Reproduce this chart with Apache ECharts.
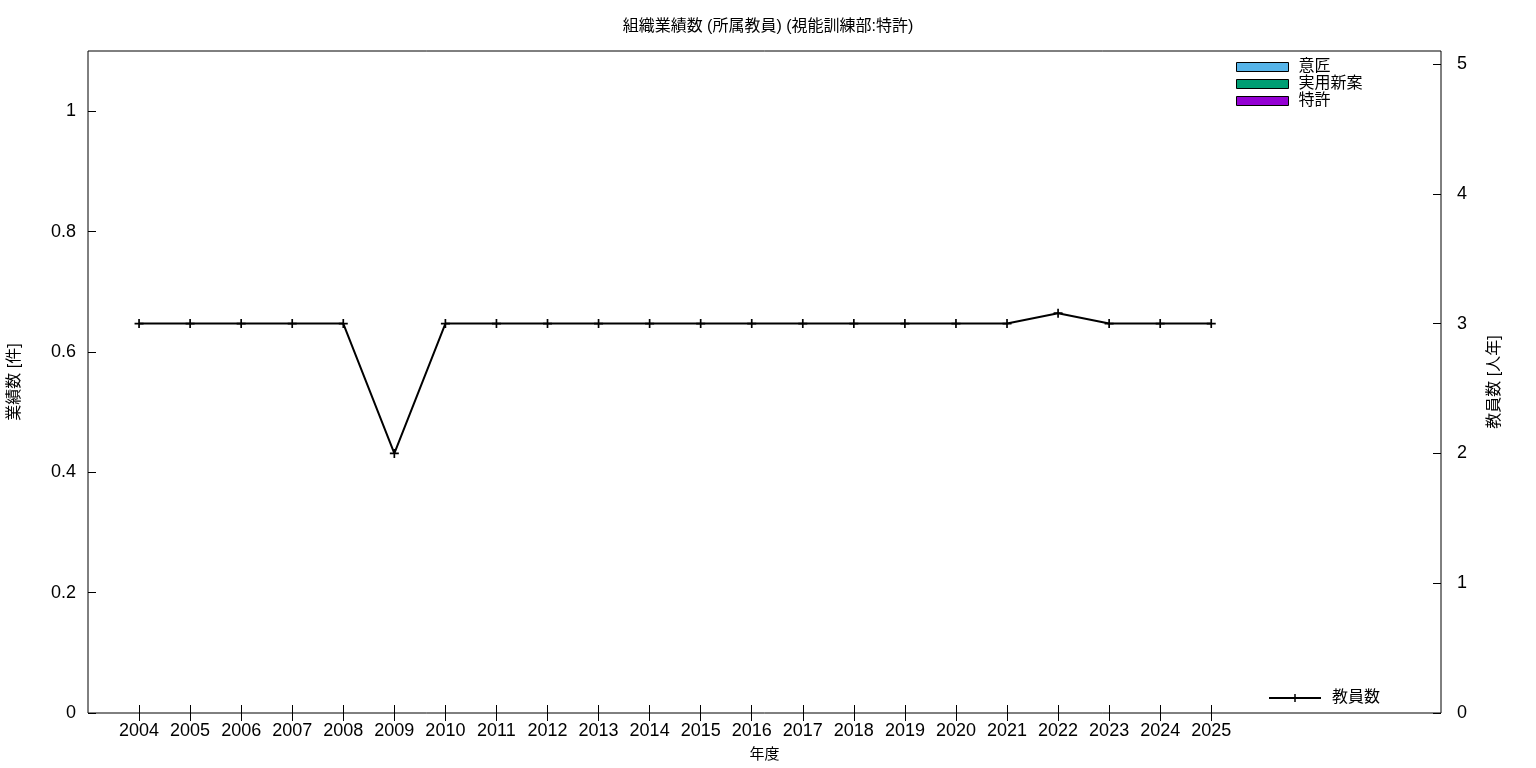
<!DOCTYPE html>
<html>
<head>
<meta charset="utf-8">
<script src="https://cdn.jsdelivr.net/npm/echarts@6/dist/echarts.min.js"></script>
<style>
html,body{margin:0;padding:0;background:#fff;}
#chart{width:1536px;height:768px;}
</style>
</head>
<body>
<div id="chart"></div>
<script>
const years = [2004,2005,2006,2007,2008,2009,2010,2011,2012,2013,2014,2015,2016,2017,2018,2019,2020,2021,2022,2023,2024,2025];
const design = [0,0,0,0,0,0,0,0,0,0,0,0,0,0,0,0,0,0,0,0,0,0];
const utility = [0,0,0,0,0,0,0,0,0,0,0,0,0,0,0,0,0,0,0,0,0,0];
const patent = [0,0,0,0,0,0,0,0,0,0,0,0,0,0,0,0,0,0,0,0,0,0];
const teachers = [3,3,3,3,3,2,3,3,3,3,3,3,3,3,3,3,3,3,3.08,3,3,3];
const leftTicks = [0,0.2,0.4,0.6,0.8,1];
const rightTicks = [0,1,2,3,4,5];

const FONT = "'Liberation Sans','Noto Sans CJK JP',sans-serif";
const pair = arr => years.map((y,i)=>[y,arr[i]]);
const plusPath = 'path://M-1.5,-8h3v6.5h6.5v3h-6.5v6.5h-3v-6.5h-6.5v-3h6.5z';

const chart = echarts.init(document.getElementById('chart'));
chart.setOption({
  animation:false,
  backgroundColor:'#fff',
  textStyle:{fontFamily:FONT,color:'#000'},
  title:{
    text:'組織業績数 (所属教員) (視能訓練部:特許)',
    left:'center', top:14,
    textStyle:{fontSize:16,fontWeight:'normal',color:'#000',fontFamily:FONT}
  },
  grid:{left:88,right:95,top:51,bottom:55,containLabel:false,outerBoundsMode:'none',show:true,borderColor:'#000',borderWidth:1},
  legend:[
    {
      data:['意匠','実用新案','特許'],
      orient:'vertical', left:1231, top:54,
      itemWidth:52, itemHeight:9, itemGap:1,
      icon:'rect',
      itemStyle:{borderColor:'#000',borderWidth:1},
      textStyle:{fontSize:16,lineHeight:16,color:'#000',fontFamily:FONT,padding:[0,0,0,5]}
    },
    {
      data:['教員数'],
      orient:'vertical', left:1263, top:685,
      itemWidth:52, itemHeight:10,
      textStyle:{fontSize:16,lineHeight:16,color:'#000',fontFamily:FONT,padding:[0,0,0,6]}
    }
  ],
  xAxis:[
    {
      type:'value', min:2003, max:2029.5, position:'bottom',
      name:'年度', nameLocation:'middle', nameGap:34,
      nameTextStyle:{fontSize:15,color:'#000',fontFamily:FONT},
      axisLine:{show:false}, splitLine:{show:false},
      axisTick:{show:true,inside:true,length:8,lineStyle:{color:'#000'},customValues:years},
      axisLabel:{fontSize:18,color:'#000',margin:9,fontFamily:FONT,customValues:years,formatter:v=>String(v)}
    },
    {
      type:'value', min:2003, max:2029.5, position:'top',
      axisLine:{show:false}, splitLine:{show:false},
      axisTick:{show:true,inside:true,length:8,lineStyle:{color:'#000'},customValues:years},
      axisLabel:{show:false}
    }
  ],
  yAxis:[
    {
      type:'value', min:0, max:1.1, position:'left',
      name:'業績数 [件]', nameLocation:'middle', nameRotate:90, nameGap:65,
      nameTextStyle:{fontSize:16,color:'#000',fontFamily:FONT},
      axisLine:{show:false}, splitLine:{show:false},
      axisTick:{show:true,inside:true,length:8,lineStyle:{color:'#000'},customValues:leftTicks},
      axisLabel:{fontSize:18,color:'#000',margin:12,fontFamily:FONT,customValues:leftTicks,formatter:v=>String(+v.toFixed(1))}
    },
    {
      type:'value', min:0, max:5.1, position:'right',
      name:'教員数 [人年]', nameLocation:'middle', nameRotate:90, nameGap:46,
      nameTextStyle:{fontSize:16,color:'#000',fontFamily:FONT},
      axisLine:{show:false}, splitLine:{show:false},
      axisTick:{show:true,inside:true,length:8,lineStyle:{color:'#000'},customValues:rightTicks},
      axisLabel:{fontSize:18,color:'#000',margin:16,fontFamily:FONT,customValues:rightTicks,formatter:v=>String(v)}
    }
  ],
  series:[
    {name:'意匠',type:'bar',stack:'a',yAxisIndex:0,data:pair(design),barWidth:30,itemStyle:{color:'#56b4e9',borderWidth:0}},
    {name:'実用新案',type:'bar',stack:'a',yAxisIndex:0,data:pair(utility),barWidth:30,itemStyle:{color:'#009e73',borderWidth:0}},
    {name:'特許',type:'bar',stack:'a',yAxisIndex:0,data:pair(patent),barWidth:30,itemStyle:{color:'#9400d3',borderWidth:0}},
    {
      name:'教員数', type:'line', yAxisIndex:1, data:pair(teachers),
      symbol:plusPath, symbolSize:9, showAllSymbol:true,
      lineStyle:{color:'#000',width:2},
      itemStyle:{color:'#000',borderWidth:0},
      z:5
    }
  ]
});
</script>
</body>
</html>
